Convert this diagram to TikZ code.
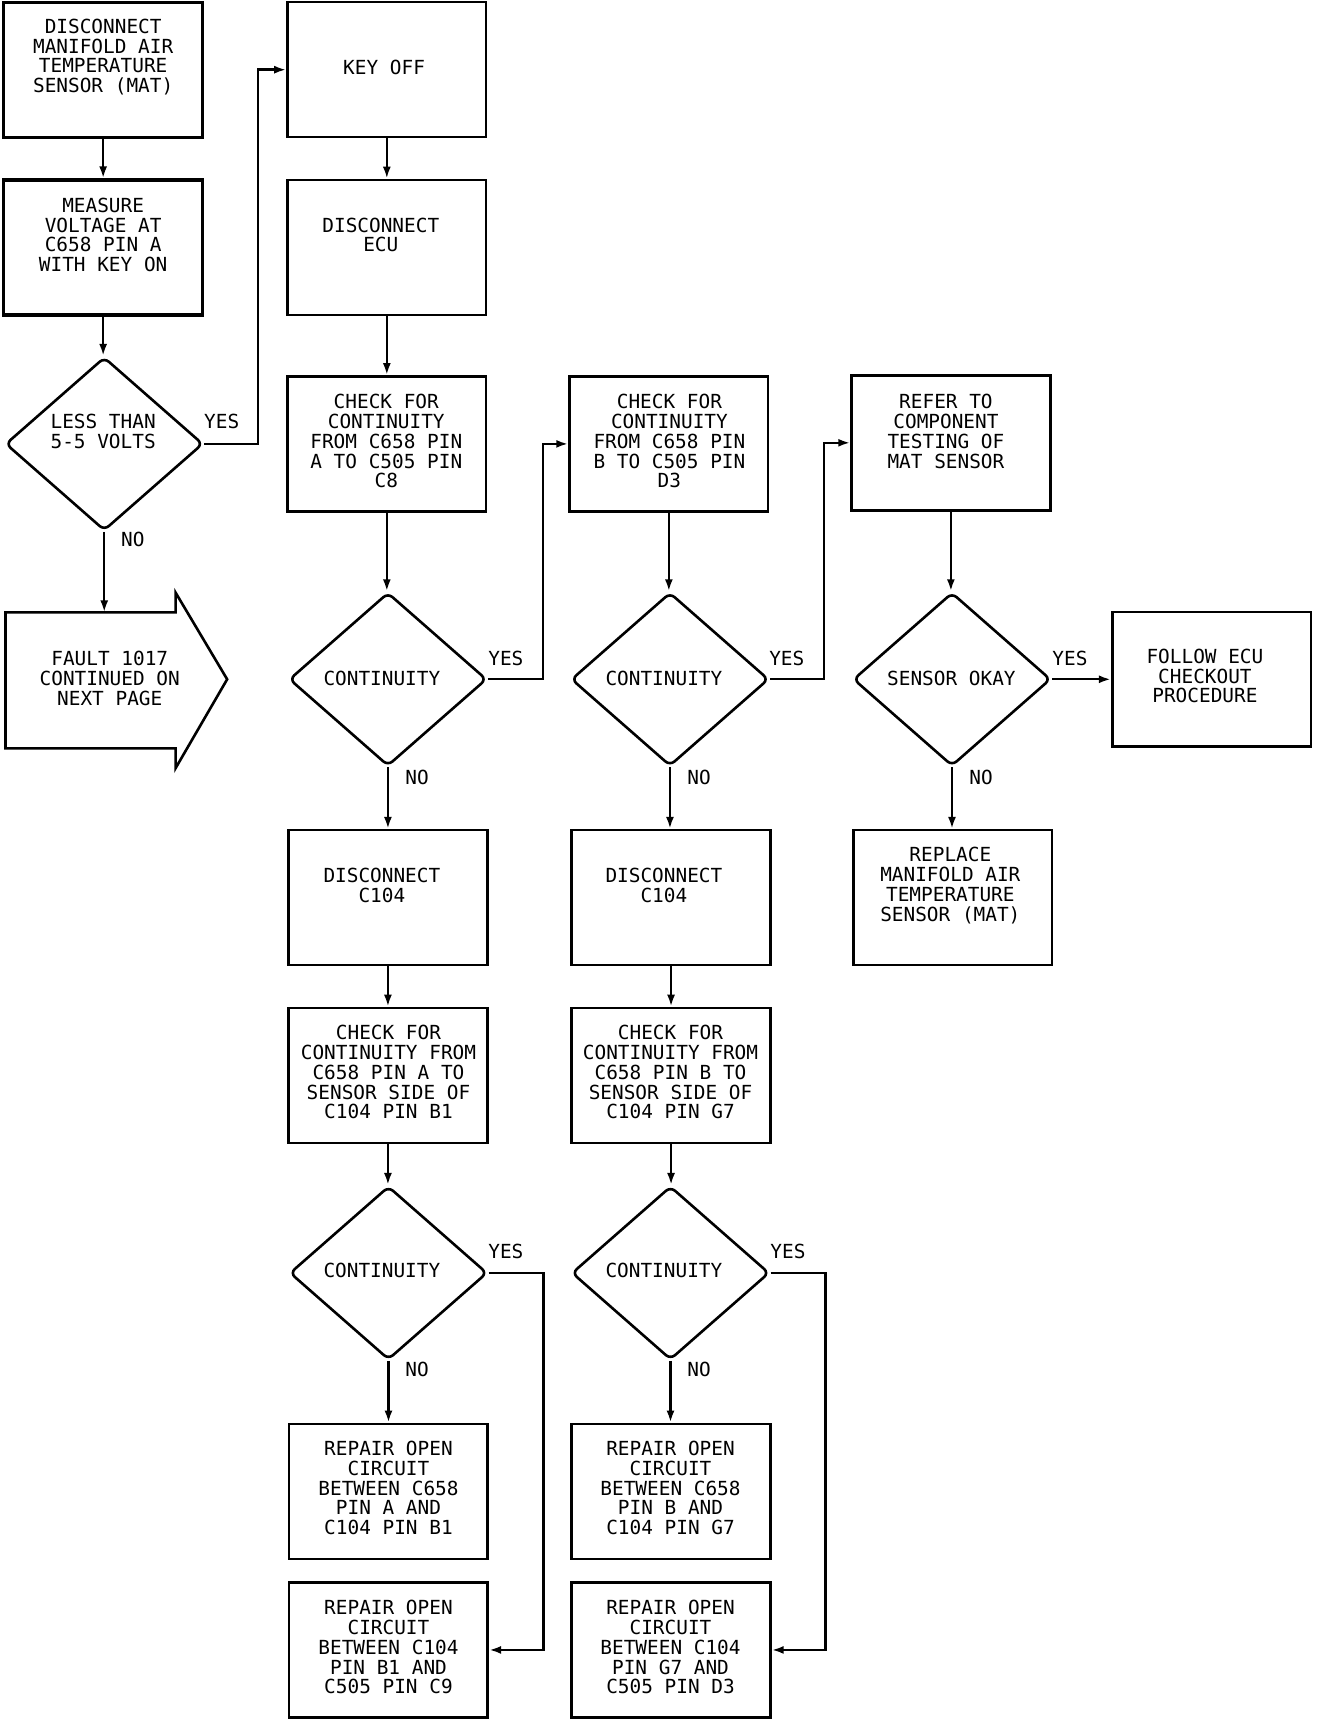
\documentclass[tikz,border=0pt]{standalone}
\usepackage{fontspec}
\newfontfamily\plotfont{DejaVu Sans Mono}
\usetikzlibrary{shapes.geometric,arrows.meta}
\newlength\pxu
\setlength\pxu{0.54875pt}
\tikzset{
  box/.style={draw, line width=1.3pt, minimum width=181\pxu, minimum height=123\pxu, inner sep=0pt},
  dia/.style={draw, shape=diamond, line width=1.3pt, minimum width=180\pxu, minimum height=158\pxu, inner sep=0pt, rounded corners=3pt},
  txt/.style={align=center, inner sep=0pt, font=\plotfont\fontsize{9.7pt}{9.9pt}\selectfont},
  lbl/.style={inner sep=0pt, font=\plotfont\fontsize{9.7pt}{9.9pt}\selectfont},
  arr/.style={line width=1.2pt, -{Latex[length=6pt,width=4pt]}},
}
\begin{document}
\begin{tikzpicture}[x=0.54875pt, y=-0.54875pt]
\useasboundingbox (0,0) rectangle (1210,1571);

% column 1
\node[box, line width=1.6pt] (b1) at (94,63.5) {};
\node[txt] (t1) at (94,52) {DISCONNECT\\MANIFOLD AIR\\TEMPERATURE\\SENSOR (MAT)};
\node[box, line width=1.6pt] (b2) at (94,225.5) {};
\node[txt] (t2) at (94,214) {MEASURE\\VOLTAGE AT\\C658 PIN A\\WITH KEY ON};
\node[dia] (d1) at (95,404.5) {};
\node[txt] (td1) at (94,393) {LESS THAN\\5-5 VOLTS};
\draw[line width=1.3pt] (5,558) -- (160,558) -- (160,540) -- (207,619) -- (160,700) -- (160,682) -- (5,682) -- cycle;
\coordinate (faulttop) at (94,558);
\node[txt] (tfault) at (100,618) {FAULT 1017\\CONTINUED ON\\NEXT PAGE};

% column 2
\node[box] (keyoff) at (352.5,63.5) {};
\node[txt] (tkey) at (350,61) {KEY OFF};
\node[box] (ecu) at (352.5,225.5) {};
\node[txt] (tecu) at (347,214) {DISCONNECT\\ECU};
\node[box] (chkA) at (352.5,404.5) {};
\node[txt] (tchkA) at (352,402) {CHECK FOR\\CONTINUITY\\FROM C658 PIN\\A TO C505 PIN\\C8};
\node[dia] (d2) at (353.5,619) {};
\node[txt] (td2) at (348,618) {CONTINUITY};
\node[box] (dc1) at (353.5,818) {};
\node[txt] (tdc1) at (348,807) {DISCONNECT\\C104};
\node[box] (ca2) at (353.5,980) {};
\node[txt] (tca2) at (354,977) {CHECK FOR\\CONTINUITY FROM\\C658 PIN A TO\\SENSOR SIDE OF\\C104 PIN B1};
\node[dia] (d4) at (354,1160) {};
\node[txt] (td4) at (348,1158) {CONTINUITY};
\node[box] (r1) at (354,1359) {};
\node[txt] (tr1) at (354,1356) {REPAIR OPEN\\CIRCUIT\\BETWEEN C658\\PIN A AND\\C104 PIN B1};
\node[box] (r2) at (354,1503.5) {};
\node[txt] (tr2) at (354,1501) {REPAIR OPEN\\CIRCUIT\\BETWEEN C104\\PIN B1 AND\\C505 PIN C9};

% column 3
\node[box] (chkB) at (609.5,404.5) {};
\node[txt] (tchkB) at (610,402) {CHECK FOR\\CONTINUITY\\FROM C658 PIN\\B TO C505 PIN\\D3};
\node[dia] (d3) at (610.5,619) {};
\node[txt] (td3) at (605,618) {CONTINUITY};
\node[box] (dc2) at (611.5,818) {};
\node[txt] (tdc2) at (605,807) {DISCONNECT\\C104};
\node[box] (cb2) at (611.5,980) {};
\node[txt] (tcb2) at (611,977) {CHECK FOR\\CONTINUITY FROM\\C658 PIN B TO\\SENSOR SIDE OF\\C104 PIN G7};
\node[dia] (d5) at (611,1160) {};
\node[txt] (td5) at (605,1158) {CONTINUITY};
\node[box] (r3) at (611.5,1359) {};
\node[txt] (tr3) at (611,1356) {REPAIR OPEN\\CIRCUIT\\BETWEEN C658\\PIN B AND\\C104 PIN G7};
\node[box] (r4) at (611.5,1503.5) {};
\node[txt] (tr4) at (611,1501) {REPAIR OPEN\\CIRCUIT\\BETWEEN C104\\PIN G7 AND\\C505 PIN D3};

% column 4
\node[box] (refer) at (866.5,403.5) {};
\node[txt] (trefer) at (862,393) {REFER TO\\COMPONENT\\TESTING OF\\MAT SENSOR};
\node[dia] (d6) at (867.5,619) {};
\node[txt] (td6) at (867,618) {SENSOR OKAY};
\node[box] (replace) at (868,818) {};
\node[txt] (treplace) at (866,807) {REPLACE\\MANIFOLD AIR\\TEMPERATURE\\SENSOR (MAT)};

% column 5
\node[box] (follow) at (1104,619) {};
\node[txt] (tfollow) at (1098,616) {FOLLOW ECU\\CHECKOUT\\PROCEDURE};

% labels
\node[lbl] (y1) at (202,384) {YES};
\node[lbl] (n1) at (121,492) {NO};
\node[lbl] (y2) at (461,600) {YES};
\node[lbl] (n2) at (380,708) {NO};
\node[lbl] (y3) at (717,600) {YES};
\node[lbl] (n3) at (637,708) {NO};
\node[lbl] (y6) at (975,600) {YES};
\node[lbl] (n6) at (894,708) {NO};
\node[lbl] (y4) at (461,1140) {YES};
\node[lbl] (n4) at (380,1248) {NO};
\node[lbl] (y5) at (718,1140) {YES};
\node[lbl] (n5) at (637,1248) {NO};

% connectors column 1
\draw[arr] (b1) -- (b2);
\draw[arr] (b2.south) -- (b2.south |- d1.north);
\draw[arr] (d1.south) -- (d1.south |- faulttop);
\draw[arr] (d1.east) -- ++(49,0) |- (keyoff.west);

% column 2
\draw[arr] (keyoff) -- (ecu);
\draw[arr] (ecu) -- (chkA);
\draw[arr] (chkA.south) -- (chkA.south |- d2.north);
\draw[arr] (d2.south) -- (d2.south |- dc1.north);
\draw[arr] (dc1) -- (ca2);
\draw[arr] (ca2.south) -- (ca2.south |- d4.north);
\draw[arr] (d4.south) -- (d4.south |- r1.north);
\draw[arr] (d2.east) -- ++(50,0) |- (chkB.west);
\draw[arr] (d4.east) -- ++(50,0) |- (r2.east);

% column 3
\draw[arr] (chkB.south) -- (chkB.south |- d3.north);
\draw[arr] (d3.south) -- (d3.south |- dc2.north);
\draw[arr] (dc2) -- (cb2);
\draw[arr] (cb2.south) -- (cb2.south |- d5.north);
\draw[arr] (d5.south) -- (d5.south |- r3.north);
\draw[arr] (d3.east) -- ++(49,0) |- (refer.west);
\draw[arr] (d5.east) -- ++(50,0) |- (r4.east);

% column 4
\draw[arr] (refer.south) -- (refer.south |- d6.north);
\draw[arr] (d6.south) -- (d6.south |- replace.north);
\draw[arr] (d6.east) -- (follow.west);
\end{tikzpicture}
\end{document}
